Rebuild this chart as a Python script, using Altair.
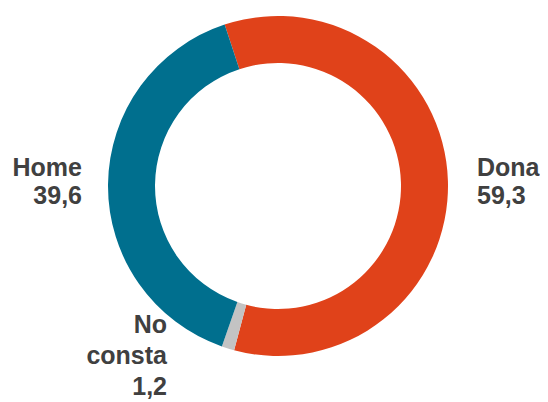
import math
import altair as alt
import pandas as pd

categories = ["Dona", "No consta", "Home"]
values = [59.3, 1.2, 39.6]
colors = ["#E0421A", "#C3C3C3", "#006F8E"]

df = pd.DataFrame({"cat": categories, "value": values, "ord": [0, 1, 2]})

start = -18.3 * math.pi / 180

arc = alt.Chart(df).mark_arc(outerRadius=170, innerRadius=123, stroke=None).encode(
    theta=alt.Theta("value:Q", stack=True,
                    scale=alt.Scale(range=[start, start + 2 * math.pi])),
    color=alt.Color("cat:N", scale=alt.Scale(domain=categories, range=colors), legend=None),
    order=alt.Order("ord:Q"),
    x=alt.value(270),
    y=alt.value(178),
)

def label(i, x, y, align, lh):
    num = str(values[i]).replace('.', ',')
    txt = f"{categories[i]}\n{num}"
    if categories[i] == "No consta":
        txt = f"No\nconsta\n{num}"
    return alt.Chart(pd.DataFrame({"t": [txt]})).mark_text(
        align=align, baseline="alphabetic", lineBreak="\n", lineHeight=lh,
        font="Liberation Sans", fontWeight="bold", fontSize=25, color="#404040",
    ).encode(text="t:N", x=alt.value(x), y=alt.value(y))

chart = alt.layer(
    arc,
    label(0, 469, 168, "left", 28),
    label(2, 74, 168, "right", 28),
    label(1, 159, 325, "right", 31),
).properties(width=532, height=394, padding=0, autosize="none").configure_view(stroke=None)

chart.save("out.html", embed_options={"renderer": "svg", "actions": False})
